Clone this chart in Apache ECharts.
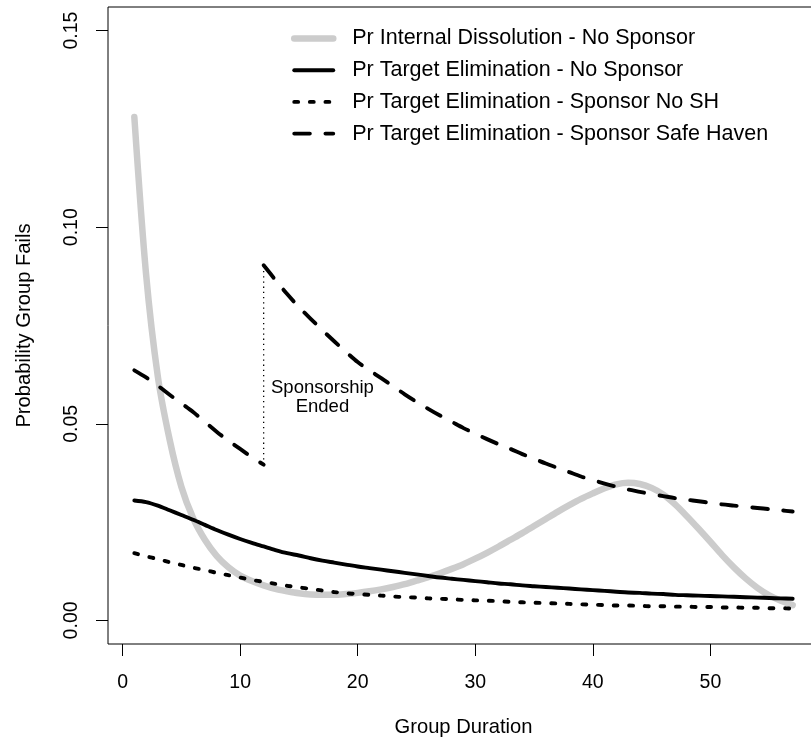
<!DOCTYPE html>
<html>
<head>
<meta charset="utf-8">
<script src="https://cdn.jsdelivr.net/npm/echarts@6/dist/echarts.min.js"></script>
<style>
  html, body { margin: 0; padding: 0; background: #fff; }
  #chart { width: 811px; height: 747px; }
</style>
</head>
<body>
<div id="chart"></div>
<script>
// ---------- data ----------
const durations = [1,2,3,4,5,6,7,8,9,10,11,12,13,14,15,16,17,18,19,20,21,22,23,24,25,26,27,28,29,30,
  31,32,33,34,35,36,37,38,39,40,41,42,43,44,45,46,47,48,49,50,51,52,53,54,55,56,57];

const internalNoSponsor = [0.128,0.088,0.062,0.046,0.034,0.026,0.0205,0.0164,0.0135,0.0114,
  0.0100,0.0089,0.0080,0.0074,0.0069,0.0066,0.0065,0.0065,0.0067,0.0070,
  0.0074,0.0079,0.0085,0.0092,0.0101,0.0110,0.0120,0.0131,0.0143,0.0157,
  0.0172,0.0188,0.0205,0.0222,0.0240,0.0258,0.0276,0.0293,0.0309,0.0323,
  0.0336,0.0346,0.0350,0.0347,0.0337,0.0320,0.0295,0.0265,0.0233,0.0200,
  0.0166,0.0135,0.0107,0.0083,0.0064,0.0050,0.0039];

const targetNoSponsor = [0.0305,0.0301,0.0292,0.0280,0.0268,0.0256,0.0243,0.0230,0.0218,0.0207,
  0.0197,0.0188,0.0179,0.0171,0.0165,0.0158,0.0152,0.0147,0.0142,0.0137,
  0.0133,0.0129,0.0125,0.0121,0.0117,0.0113,0.0109,0.0106,0.0103,0.0100,
  0.0097,0.0094,0.0092,0.0089,0.0087,0.0085,0.0083,0.0081,0.0079,0.0077,
  0.0075,0.0073,0.0071,0.0070,0.0068,0.0067,0.0065,0.0064,0.0063,0.0062,
  0.0061,0.0060,0.0059,0.0058,0.0057,0.0056,0.0055];

const targetSponsorNoSH = [0.0171,0.0163,0.0156,0.0148,0.0141,0.0134,0.0128,0.0121,0.0115,0.0109,
  0.0103,0.0098,0.0093,0.0088,0.0084,0.0080,0.0076,0.0072,0.0069,0.0067,
  0.0065,0.0063,0.0061,0.0059,0.0058,0.0056,0.0055,0.0054,0.0052,0.0051,
  0.0050,0.0049,0.0047,0.0046,0.0045,0.0044,0.0043,0.0042,0.0041,0.0040,
  0.0039,0.0038,0.0038,0.0037,0.0036,0.0036,0.0035,0.0035,0.0034,0.0034,
  0.0033,0.0033,0.0032,0.0032,0.0031,0.0031,0.0030];

// Safe-haven series: durations 1..12 during sponsorship, then 12..57 after it ends
const safeHavenDuring = [0.0636,0.0618,0.0597,0.0574,0.0552,0.0530,0.0505,0.0480,0.0457,0.0436,0.0415,0.0396];
const safeHavenAfter = [0.0903,0.0866,0.0830,0.0797,0.0767,0.0738,0.0710,0.0683,0.0657,0.0636,
  0.0616,0.0596,0.0575,0.0556,0.0538,0.0521,0.0505,0.0489,0.0475,0.0461,
  0.0448,0.0436,0.0423,0.0411,0.0399,0.0388,0.0377,0.0366,0.0357,0.0348,
  0.0340,0.0333,0.0327,0.0321,0.0316,0.0311,0.0307,0.0303,0.0299,0.0295,
  0.0292,0.0289,0.0286,0.0283,0.0280,0.0277];

const sponsorEndDuration = 12;
const annotationText = 'Sponsorship\nEnded';
const annotationAt = [17.0, 0.0567];

const seriesNames = [
  'Pr Internal Dissolution - No Sponsor',
  'Pr Target Elimination - No Sponsor',
  'Pr Target Elimination - Sponsor No SH',
  'Pr Target Elimination - Sponsor Safe Haven'
];
const xTicks = [0, 10, 20, 30, 40, 50];
const yTicks = [0, 0.05, 0.10, 0.15];
const yTickLabels = ['0.00', '0.05', '0.10', '0.15'];
const xTitle = 'Group Duration';
const yTitle = 'Probability Group Fails';

// ---------- build ----------
const pairs = (xs, ys) => ys.map((y, i) => [xs[i], y]);
const duringX = durations.slice(0, safeHavenDuring.length);
const afterX = durations.slice(sponsorEndDuration - 1);

const FONT = '"Liberation Sans", Arial, Helvetica, sans-serif';
const FS_TICK = 19.5, FS_TITLE = 20.2, FS_LEGEND = 21.5, FS_NOTE = 18.5;
const dashed = [15.6, 15.6];
const dotted = [3.9, 11.7];

const styles = [
  { color: '#cccccc', width: 6.5, type: 'solid', cap: 'round', join: 'round' },
  { color: '#000000', width: 3.9, type: 'solid', cap: 'round', join: 'round' },
  { color: '#000000', width: 3.9, type: dotted, cap: 'round', join: 'round' },
  { color: '#000000', width: 3.9, type: dashed, cap: 'round', join: 'round' }
];

const lineSeries = (name, data, st, z) => ({
  name, type: 'line', symbol: 'none', showSymbol: false,
  smooth: 0.3, data,
  lineStyle: st, itemStyle: { color: st.color, opacity: 0 }, z
});

const chart = echarts.init(document.getElementById('chart'), null, { renderer: 'canvas' });
chart.setOption({
  animation: false,
  backgroundColor: '#ffffff',
  textStyle: { fontFamily: FONT, color: '#000' },
  grid: {
    left: 108, top: 7, width: 711, height: 637,
    show: true, borderColor: '#000', borderWidth: 1,
    containLabel: false, outerBoundsMode: 'none'
  },
  legend: {
    data: seriesNames.map((n, i) => ({
      name: n,
      itemStyle: { opacity: 0, borderWidth: 0 },
      lineStyle: Object.assign({}, styles[i])
    })),
    orient: 'vertical',
    left: 286, top: 22.5,
    itemWidth: 39, itemHeight: 14, itemGap: 9.7,
    itemStyle: { opacity: 0, borderWidth: 0 },
    textStyle: { fontSize: FS_LEGEND, color: '#000', fontFamily: FONT, lineHeight: 22, padding: [0, 0, 0, 14] },
    selectedMode: false
  },
  xAxis: {
    type: 'value', min: -1.24, max: 59.24,
    splitLine: { show: false },
    axisLine: { show: false, onZero: false },
    axisTick: { show: true, inside: false, customValues: xTicks, length: 12, lineStyle: { color: '#000', width: 1 } },
    axisLabel: { customValues: xTicks, fontSize: FS_TICK, color: '#000', margin: 28.5, fontFamily: FONT },
    name: xTitle, nameLocation: 'middle', nameGap: 73.5,
    nameTextStyle: { fontSize: FS_TITLE, color: '#000', fontFamily: FONT }
  },
  yAxis: {
    type: 'value', min: -0.006, max: 0.156,
    splitLine: { show: false },
    axisLine: { show: false, onZero: false },
    axisTick: { show: true, inside: false, customValues: yTicks, length: 12, lineStyle: { color: '#000', width: 1 } },
    axisLabel: {
      customValues: yTicks, rotate: 90, fontSize: FS_TICK, color: '#000', margin: 26, fontFamily: FONT,
      formatter: v => { const i = yTicks.findIndex(t => Math.abs(t - v) < 1e-9); return i >= 0 ? yTickLabels[i] : ''; }
    },
    name: yTitle, nameLocation: 'middle', nameGap: 74,
    nameTextStyle: { fontSize: FS_TITLE, color: '#000', fontFamily: FONT }
  },
  series: [
    lineSeries(seriesNames[0], pairs(durations, internalNoSponsor), styles[0], 2),
    lineSeries(seriesNames[1], pairs(durations, targetNoSponsor), styles[1], 3),
    lineSeries(seriesNames[2], pairs(durations, targetSponsorNoSH), styles[2], 3),
    lineSeries(seriesNames[3], pairs(duringX, safeHavenDuring), styles[3], 3),
    lineSeries(seriesNames[3], pairs(afterX, safeHavenAfter), styles[3], 3),
    {
      name: 'sponsorship-ended', type: 'line', symbol: 'none',
      data: [[sponsorEndDuration, safeHavenDuring[safeHavenDuring.length - 1]],
             [sponsorEndDuration, safeHavenAfter[0]]],
      lineStyle: { color: '#000', width: 1.3, type: [1.3, 3.9] }, z: 3
    },
    {
      name: 'annotation', type: 'scatter', symbolSize: 0,
      itemStyle: { opacity: 1 },
      data: [annotationAt],
      label: {
        show: true, position: 'inside', formatter: annotationText,
        fontSize: FS_NOTE, lineHeight: 19.5, color: '#000', fontFamily: FONT, align: 'center'
      },
      silent: true, z: 4
    }
  ]
});
</script>
</body>
</html>
